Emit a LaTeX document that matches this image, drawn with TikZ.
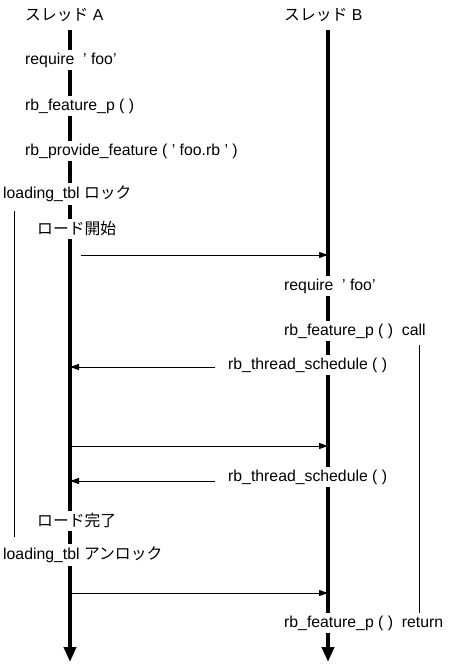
\documentclass[tikz,border=0pt]{standalone}
\usepackage{fontspec}
\setmainfont{Liberation Sans}
\newfontfamily\jp{Noto Sans CJK JP}
\usetikzlibrary{arrows.meta}
\tikzset{
  lbl/.style={font=\fontsize{15.8}{19}\selectfont, anchor=west, fill=white, inner xsep=1pt, inner ysep=3pt},
  life/.style={line width=4pt, -{Triangle[length=15pt,width=12pt]}},
  msg/.style={line width=1pt, -{Triangle[length=9pt,width=6pt]}},
  span/.style={line width=0.9pt}
}
\begin{document}
\begin{tikzpicture}[x=1pt,y=-1pt]
\useasboundingbox (0,0) rectangle (448,664);
% lifeline endpoints
\coordinate (Atop) at (70,30);
\coordinate (Abot) at (70,662);
\coordinate (Btop) at (328,30);
\coordinate (Bbot) at (328,662);
\draw[life] (Atop) -- (Abot);
\draw[life] (Btop) -- (Bbot);
% spans
\coordinate (L1) at (14,211);
\coordinate (L2) at (14,537);
\coordinate (R1) at (419,345);
\coordinate (R2) at (419,613);
\draw[span] (L1) -- (L2);
\draw[span] (R1) -- (R2);
% labels
\node[lbl, fill=none] (hA) at (24,15) {{\jp スレッド} A};
\node[lbl, fill=none] (hB) at (283,15) {{\jp スレッド} B};
\node[lbl] (a1) at (24,60) {require\ \ ' foo'};
\node[lbl] (a2) at (24,106) {rb\_feature\_p ( )};
\node[lbl] (a3) at (24,151) {rb\_provide\_feature ( ' foo.rb ' )};
\node[lbl] (a4) at (2,194) {loading\_tbl {\jp ロック}};
\node[lbl] (a5) at (36,229) {{\jp ロード開始}};
\node[lbl] (b1) at (283,286) {require\ \ ' foo'};
\node[lbl] (b2) at (283,331) {rb\_feature\_p ( )\ \ call};
\node[lbl] (s1) at (227,365) {rb\_thread\_schedule ( )};
\node[lbl] (s2) at (227,477) {rb\_thread\_schedule ( )};
\node[lbl] (a6) at (36,521) {{\jp ロード完了}};
\node[lbl] (a7) at (2,555) {loading\_tbl {\jp アンロック}};
\node[lbl] (b3) at (283,623) {rb\_feature\_p ( )\ \ return};
% messages
\coordinate (m1s) at (81,255);
\coordinate (m1e) at (328,255);
\coordinate (m2s) at (215,367);
\coordinate (m2e) at (70,367);
\coordinate (m3s) at (70,446);
\coordinate (m3e) at (328,446);
\coordinate (m4s) at (215,481);
\coordinate (m4e) at (70,481);
\coordinate (m5s) at (70,593);
\coordinate (m5e) at (328,593);
\draw[msg] (m1s) -- (m1e);
\draw[msg] (m2s) -- (m2e);
\draw[msg] (m3s) -- (m3e);
\draw[msg] (m4s) -- (m4e);
\draw[msg] (m5s) -- (m5e);
\end{tikzpicture}
\end{document}
